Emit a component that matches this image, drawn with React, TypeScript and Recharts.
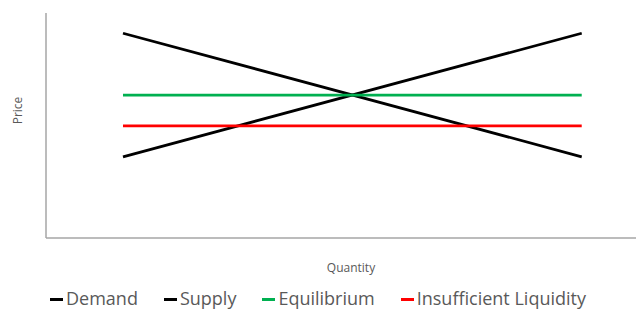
import { LineChart, Line, XAxis, YAxis, Legend } from 'recharts';

const quantities = [2, 8];
const demand = [8, 4];
const supply = [4, 8];
const equilibrium = [6, 6];
const insufficientLiquidity = [5, 5];
const seriesOrder = ['Demand', 'Supply', 'Equilibrium', 'Insufficient Liquidity'];

const data = quantities.map((q, i) => ({
  quantity: q,
  demand: demand[i],
  supply: supply[i],
  equilibrium: equilibrium[i],
  insufficient: insufficientLiquidity[i],
}));

const AXIS_COLOR = '#a6a6a6';
const LABEL_COLOR = '#595959';
const FONT = '"Open Sans", "Noto Sans", sans-serif';

function LegendContent(props: any) {
  const items = [...(props.payload || [])].sort(
    (a: any, b: any) => seriesOrder.indexOf(a.value) - seriesOrder.indexOf(b.value)
  );
  return (
    <div
      style={{
        display: 'flex',
        justifyContent: 'center',
        gap: 26,
        fontFamily: FONT,
        fontSize: 18,
        color: LABEL_COLOR,
        lineHeight: '24px',
        height: 24,
      }}
    >
      {items.map((item: any) => (
        <div key={item.value} style={{ display: 'flex', alignItems: 'center' }}>
          <span
            style={{
              display: 'inline-block',
              width: 13,
              height: 3,
              background: item.color,
              marginRight: 3,
              marginTop: 2,
            }}
          />
          <span>{item.value}</span>
        </div>
      ))}
    </div>
  );
}

function PriceLabel(props: any) {
  const vb = props.viewBox || {};
  const cx = vb.x + 17;
  const cy = vb.y + vb.height / 2 - 15;
  return (
    <text
      x={cx}
      y={cy}
      transform={`rotate(-90, ${cx}, ${cy})`}
      textAnchor="middle"
      dominantBaseline="central"
      fill={LABEL_COLOR}
      fontSize={12}
      fontFamily={FONT}
    >
      Price
    </text>
  );
}

export default function App() {
  return (
    <div style={{ position: 'absolute', left: 0, top: 0, width: 636, height: 311, background: '#fff' }}>
      <LineChart
        width={636}
        height={311}
        data={data}
        margin={{ top: 13, right: 0, bottom: 1, left: 0 }}
      >
        <XAxis
          dataKey="quantity"
          type="number"
          domain={[0.993, 8.71]}
          allowDataOverflow
          height={48}
          tick={false}
          tickLine={false}
          axisLine={{ stroke: AXIS_COLOR, strokeWidth: 1.5 }}
          label={{
            value: 'Quantity',
            position: 'insideBottom',
            offset: 14,
            dx: 10,
            fill: LABEL_COLOR,
            fontSize: 12,
            fontFamily: FONT,
          }}
        />
        <YAxis
          type="number"
          domain={[1.372, 8.654]}
          allowDataOverflow
          width={46}
          tick={false}
          tickLine={false}
          axisLine={{ stroke: AXIS_COLOR, strokeWidth: 1.5 }}
          label={<PriceLabel />}
        />
        <Legend
          verticalAlign="bottom"
          wrapperStyle={{ height: 24 }}
          content={<LegendContent />}
        />
        <Line
          dataKey="demand"
          name="Demand"
          stroke="#000000"
          strokeWidth={2.75}
          dot={false}
          isAnimationActive={false}
        />
        <Line
          dataKey="supply"
          name="Supply"
          stroke="#000000"
          strokeWidth={2.75}
          dot={false}
          isAnimationActive={false}
        />
        <Line
          dataKey="equilibrium"
          name="Equilibrium"
          stroke="#00b050"
          strokeWidth={2.75}
          dot={false}
          isAnimationActive={false}
        />
        <Line
          dataKey="insufficient"
          name="Insufficient Liquidity"
          stroke="#ff0000"
          strokeWidth={2.75}
          dot={false}
          isAnimationActive={false}
        />
      </LineChart>
    </div>
  );
}
